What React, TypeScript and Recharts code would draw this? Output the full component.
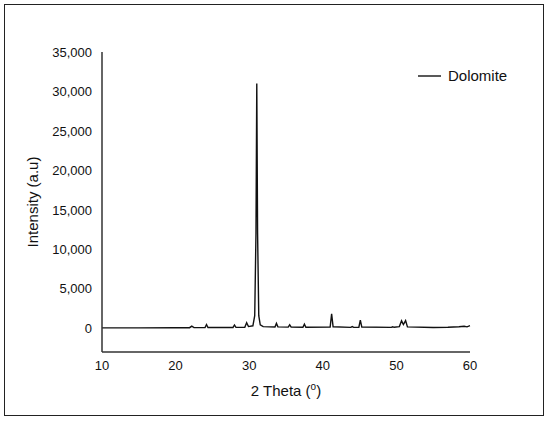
import { LineChart, Line, XAxis, YAxis, Legend, Label } from 'recharts'

// 2 Theta positions (deg) and intensity (a.u)
const twoTheta = [
  10, 15, 20, 21.9, 22.2, 22.5, 24.0, 24.2, 24.4, 27.8, 28.0, 28.2, 29.4, 29.65, 29.9,
  30.5, 30.75, 30.92, 31.03, 31.14, 31.3, 31.5, 31.9, 33.5, 33.7, 33.9, 35.3, 35.5, 35.7,
  37.3, 37.5, 37.7, 41.0, 41.2, 41.4, 43.8, 44.0, 44.2, 44.9, 45.1, 45.3, 49.3, 49.5,
  49.7, 50.4, 50.7, 50.95, 51.25, 51.5, 55, 57, 58.5, 59.2, 59.6, 60,
]
const intensity = [
  60, 60, 70, 80, 280, 90, 100, 480, 110, 110, 420, 120, 140, 700, 220,
  320, 1600, 12000, 31000, 12000, 1600, 450, 220, 160, 620, 180, 150, 450, 150,
  140, 520, 140, 150, 1850, 200, 120, 220, 120, 140, 1050, 160, 120, 200,
  130, 220, 950, 480, 980, 180, 100, 130, 200, 260, 190, 330,
]

const xTicks = [10, 20, 30, 40, 50, 60]
const yTicks = [0, 5000, 10000, 15000, 20000, 25000, 30000, 35000]

const data = twoTheta.map((t, i) => ({ x: t, y: intensity[i] }))

const font = '"Liberation Sans", Arial, sans-serif'

function LegendBox() {
  return (
    <svg width={110} height={20} style={{ display: 'block' }}>
      <line x1={0} y1={10} x2={23} y2={10} stroke="#222" strokeWidth={1.5} />
      <text x={30} y={15} fontSize={15} fontFamily={font} fill="#111">
        Dolomite
      </text>
    </svg>
  )
}

export default function App() {
  return (
    <div style={{ position: 'absolute', left: 0, top: 0, width: 550, height: 423, background: '#fff' }}>
      <div
        style={{
          position: 'absolute',
          left: 4,
          top: 4,
          width: 538,
          height: 410,
          border: '1.5px solid #222',
        }}
      />
      <LineChart
        width={550}
        height={423}
        data={data}
        margin={{ top: 52, right: 80, bottom: 41, left: 42 }}
        style={{ fontFamily: font }}
      >
        <XAxis
          dataKey="x"
          type="number"
          domain={[10, 60]}
          ticks={xTicks}
          tickLine={false}
          tickMargin={3}
          height={30}
          axisLine={{ stroke: '#333', strokeWidth: 1.5 }}
          tick={{ fill: '#111', fontSize: 13, fontFamily: font }}
        >
          <Label
            content={() => (
              <text x={286} y={396} textAnchor="middle" fontSize={15} fontFamily={font} fill="#111">
                2 Theta (
                <tspan fontSize={10} dy={-6}>o</tspan>
                <tspan dy={6}>)</tspan>
              </text>
            )}
          />
        </XAxis>
        <YAxis
          type="number"
          domain={[-3000, 35000]}
          ticks={yTicks}
          width={60}
          tickLine={false}
          tickMargin={4}
          allowDataOverflow
          axisLine={{ stroke: '#333', strokeWidth: 1.5 }}
          tick={{ fill: '#111', fontSize: 13, fontFamily: font }}
          tickFormatter={(v: number) => v.toLocaleString('en-US')}
        >
          <Label
            content={() => (
              <text
                x={32}
                y={202}
                textAnchor="middle"
                dominantBaseline="central"
                transform="rotate(-90 32 202)"
                fontSize={15}
                fontFamily={font}
                fill="#111"
              >
                Intensity (a.u)
              </text>
            )}
          />
        </YAxis>
        <Legend
          layout="vertical"
          align="center"
          verticalAlign="middle"
          content={() => <LegendBox />}
          wrapperStyle={{ position: 'absolute', left: 418, top: 66, width: 110, height: 20 }}
        />
        <Line
          type="linear"
          dataKey="y"
          name="Dolomite"
          stroke="#111"
          strokeWidth={1.4}
          dot={false}
          isAnimationActive={false}
        />
      </LineChart>
    </div>
  )
}
